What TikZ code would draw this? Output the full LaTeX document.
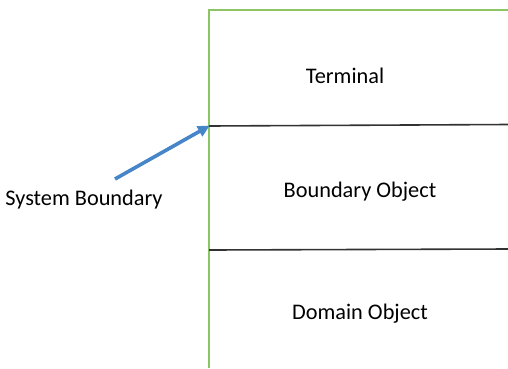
\documentclass[tikz,border=0pt]{standalone}
\usepackage{fontspec}
\setmainfont{Carlito}
\usetikzlibrary{arrows.meta}
\definecolor{bgreen}{RGB}{140,198,100}
\definecolor{barrow}{RGB}{70,134,200}
\definecolor{bline}{RGB}{50,50,50}
\tikzset{
  lbl/.style={anchor=base, inner sep=0pt, font=\fontsize{22.3}{26}\selectfont},
  greenline/.style={draw=bgreen, line width=2pt},
  divline/.style={draw=bline, line width=1.6pt},
  pointer/.style={draw=barrow, line width=3.6pt, -{Triangle[length=12pt,width=11pt]}, shorten >=-1pt}
}
\begin{document}
\begin{tikzpicture}[x=1pt,y=-1pt]
\useasboundingbox (0,0) rectangle (508,368);
\coordinate (gtop) at (209,9.5);
\coordinate (gtr) at (508,9.5);
\coordinate (gbot) at (209,368);
\coordinate (d1l) at (209,126);
\coordinate (d1r) at (508,124.5);
\coordinate (d2l) at (209,250);
\coordinate (d2r) at (508,249);
\coordinate (astart) at (115,179);
\draw[greenline] (gbot) -- (gtop) -- (gtr);
\draw[divline] (d1l) -- (d1r);
\draw[divline] (d2l) -- (d2r);
\node[lbl] (term) at (345,83) {Terminal};
\node[lbl] (bobj) at (360,197) {Boundary Object};
\node[lbl] (dobj) at (360,319) {Domain Object};
\node[lbl] (sysb) at (84,205) {System Boundary};
\draw[pointer] (astart) -- (d1l);
\end{tikzpicture}
\end{document}
